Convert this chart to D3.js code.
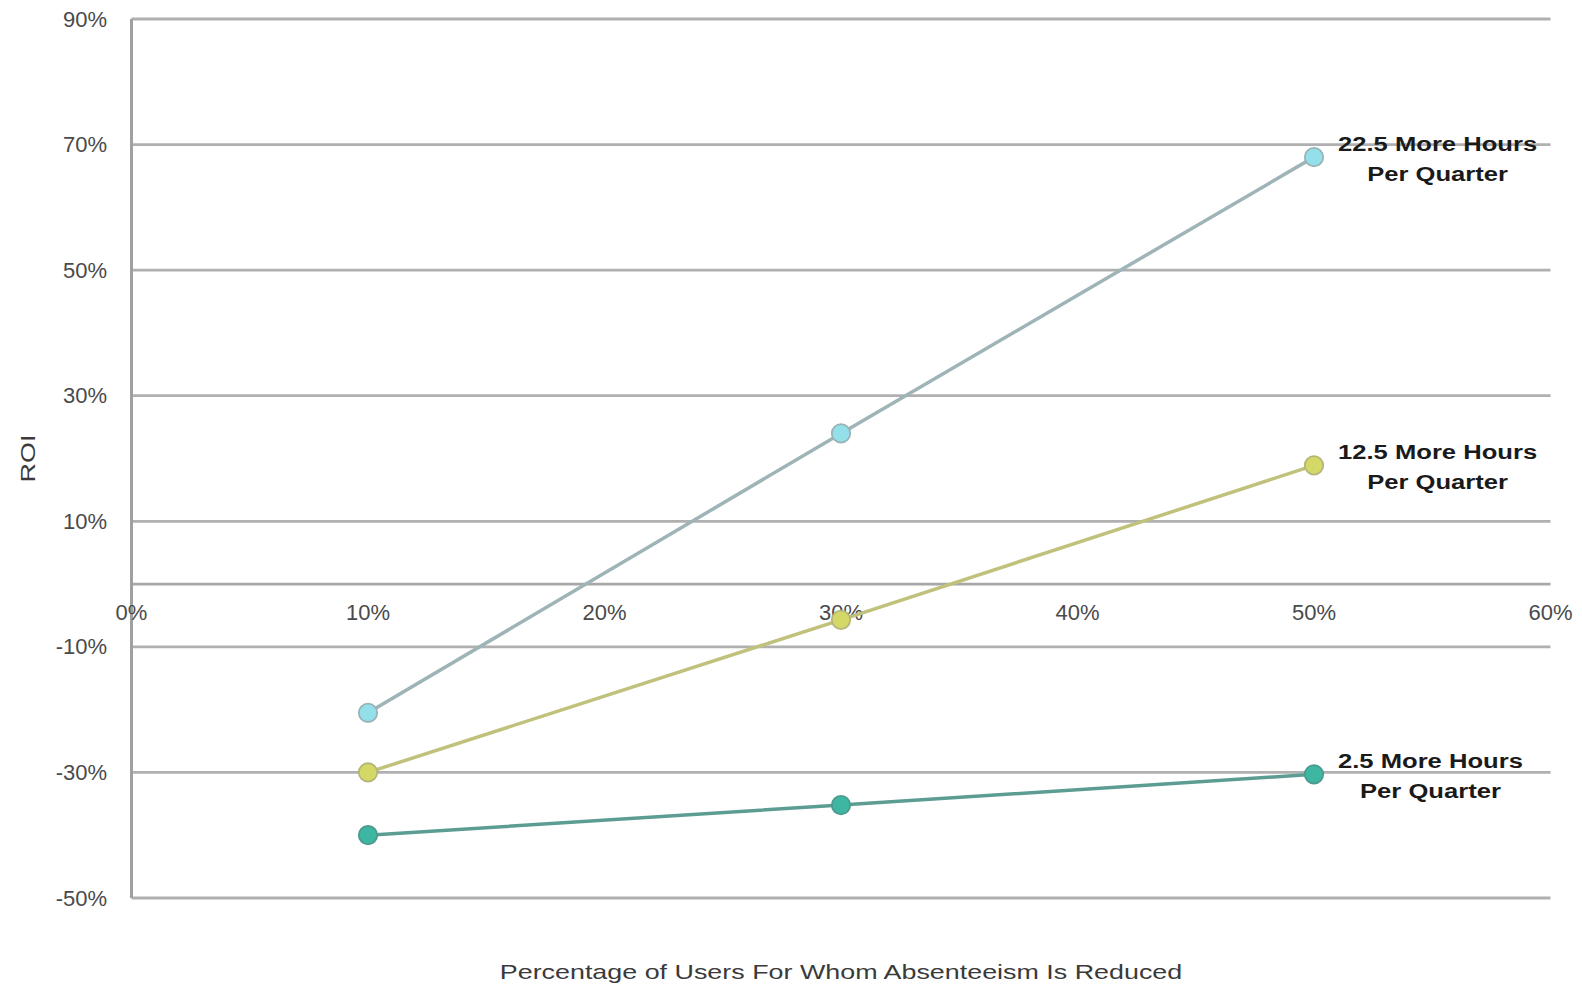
<!DOCTYPE html>
<html>
<head>
<meta charset="utf-8">
<script src="https://cdn.jsdelivr.net/npm/d3@7"></script>
<style>
  html, body { margin: 0; padding: 0; background: #fff; }
  svg { display: block; }
</style>
</head>
<body>
<svg id="chart" width="1582" height="986"></svg>
<script>
// ---- data ----
const xValues = [0.1, 0.3, 0.5];
const seriesNames = ["22.5 More Hours", "12.5 More Hours", "2.5 More Hours"];
const series225 = [-0.205, 0.24, 0.68];
const series125 = [-0.30, -0.057, 0.189];
const series25 = [-0.40, -0.352, -0.303];
const yTicks = [0.9, 0.7, 0.5, 0.3, 0.1, -0.1, -0.3, -0.5];
const xTicks = [0, 0.1, 0.2, 0.3, 0.4, 0.5, 0.6];
const xTitle = "Percentage of Users For Whom Absenteeism Is Reduced";
const yTitle = "ROI";
const labelSub = "Per Quarter";

const seriesList = [
  { name: seriesNames[0], values: series225, line: "#9fb4b6", fill: "#94e0ea", stroke: "#9ab3b6" },
  { name: seriesNames[1], values: series125, line: "#c0c27c", fill: "#d4d866", stroke: "#b4b67a" },
  { name: seriesNames[2], values: series25,  line: "#5c9d93", fill: "#3db6a2", stroke: "#4c9a8e" }
];

const svg = d3.select("#chart");
const SX = 1.28; // horizontal stretch of text
const fontFam = "'Liberation Sans', Arial, sans-serif";

const x = d3.scaleLinear().domain([0, 0.6]).range([131.5, 1550.5]);
const y = d3.scaleLinear().domain([-0.5, 0.9]).range([898, 19]);
const pctFmt = d3.format(".0%");
const pct = d => pctFmt(d).replace("\u2212", "-");

// gridlines
svg.append("g").selectAll("line").data(yTicks).join("line")
  .attr("x1", x(0)).attr("x2", x(0.6))
  .attr("y1", d => y(d)).attr("y2", d => y(d))
  .attr("stroke", "#b0b0b0").attr("stroke-width", 2.8);

// zero line (x axis)
svg.append("line")
  .attr("x1", x(0)).attr("x2", x(0.6))
  .attr("y1", y(0)).attr("y2", y(0))
  .attr("stroke", "#a8a8a8").attr("stroke-width", 2.8);

// y axis line
svg.append("line")
  .attr("x1", x(0)).attr("x2", x(0))
  .attr("y1", y(0.9)).attr("y2", y(-0.5))
  .attr("stroke", "#a0a0a0").attr("stroke-width", 3);

// y tick labels
svg.append("g").selectAll("text").data(yTicks).join("text")
  .attr("x", 107).attr("y", d => y(d))
  .attr("text-anchor", "end").attr("dominant-baseline", "central")
  .attr("font-family", fontFam).attr("font-size", 22).attr("fill", "#4a4a4a")
  .text(d => pct(d));

// x tick labels
svg.append("g").selectAll("text").data(xTicks).join("text")
  .attr("x", d => x(d)).attr("y", y(0) + 28)
  .attr("text-anchor", "middle").attr("dominant-baseline", "central")
  .attr("font-family", fontFam).attr("font-size", 22).attr("fill", "#4a4a4a")
  .text(d => pct(d));

// axis titles
svg.append("g")
  .attr("transform", `translate(${(x(0) + x(0.6)) / 2},${972}) scale(${SX},1)`)
  .append("text")
  .attr("text-anchor", "middle").attr("dominant-baseline", "central")
  .attr("font-family", fontFam).attr("font-size", 21).attr("fill", "#3a3a3a")
  .text(xTitle);

svg.append("g")
  .attr("transform", `translate(28,${(y(0.9) + y(-0.5)) / 2}) rotate(-90) scale(${SX},1)`)
  .append("text")
  .attr("text-anchor", "middle").attr("dominant-baseline", "central")
  .attr("font-family", fontFam).attr("font-size", 21).attr("fill", "#3a3a3a")
  .text(yTitle);

// series
const lineGen = d3.line().x((d, i) => x(xValues[i])).y(d => y(d));

seriesList.forEach(s => {
  svg.append("path")
    .attr("d", lineGen(s.values))
    .attr("fill", "none").attr("stroke", s.line).attr("stroke-width", 3.5);
});
seriesList.forEach(s => {
  svg.append("g").selectAll("circle").data(s.values).join("circle")
    .attr("cx", (d, i) => x(xValues[i])).attr("cy", d => y(d))
    .attr("r", 9.2)
    .attr("fill", s.fill).attr("stroke", s.stroke).attr("stroke-width", 1.8);
});

// end labels
seriesList.forEach(s => {
  const last = s.values.length - 1;
  const px = x(xValues[last]), py = y(s.values[last]);
  const left = px + 24;
  const lines = [s.name, labelSub];
  const offsets = [-13, 17];
  const groups = lines.map((t, i) => {
    const g = svg.append("g");
    const txt = g.append("text")
      .attr("text-anchor", "middle").attr("dominant-baseline", "central")
      .attr("font-family", fontFam).attr("font-size", 20).attr("font-weight", "bold")
      .attr("fill", "#1a1a1a").text(t);
    return { g, w: txt.node().getComputedTextLength() * SX, off: offsets[i] };
  });
  const maxW = d3.max(groups, d => d.w);
  groups.forEach(d => {
    d.g.attr("transform", `translate(${left + maxW / 2},${py + d.off}) scale(${SX},1)`);
  });
});
</script>
</body>
</html>
